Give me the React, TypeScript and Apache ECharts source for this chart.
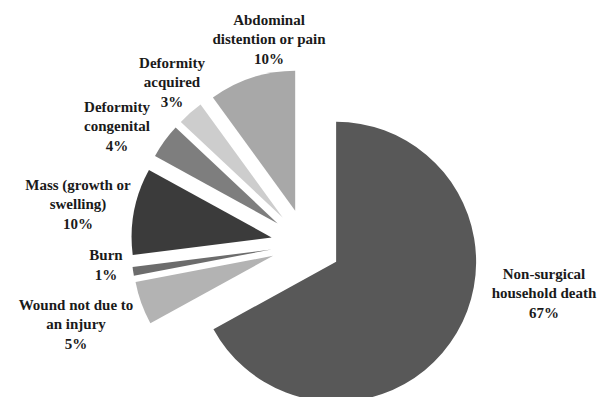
import React, { useEffect, useRef } from "react";
import * as echarts from "echarts";

const CATEGORIES = [
  "Non-surgical\nhousehold death",
  "Wound not due to\nan injury",
  "Burn",
  "Mass (growth or\nswelling)",
  "Deformity\ncongenital",
  "Deformity\nacquired",
  "Abdominal\ndistention or pain",
];
const VALUES = [67, 5, 1, 10, 4, 3, 10];
const COLORS = ["#585858", "#b3b3b3", "#6c6c6c", "#3b3b3b", "#7e7e7e", "#cdcdcd", "#a8a8a8"];
// label block centres (layout only)
const LABEL_CENTERS: [number, number][] = [
  [544, 293],
  [76, 324],
  [106, 265],
  [78, 204],
  [117, 126],
  [172, 82],
  [269, 39],
];

export default function App() {
  const ref = useRef<HTMLDivElement>(null);
  useEffect(() => {
    if (!ref.current) return;
    const chart = echarts.init(ref.current, undefined, { renderer: "svg" });
    chart.setOption({
      animation: false,
      backgroundColor: "#ffffff",
      graphic: CATEGORIES.map((name, i) => ({
        type: "text",
        x: LABEL_CENTERS[i][0],
        y: LABEL_CENTERS[i][1],
        silent: true,
        style: {
          text: `${name}\n${VALUES[i]}%`,
          fontFamily: "Liberation Serif",
          fontWeight: "bold",
          fontSize: 15,
          lineHeight: 19.5,
          fill: "#1a1a1a",
          align: "center",
          verticalAlign: "middle",
        },
      })),
      series: [
        {
          type: "pie",
          center: [306, 244],
          radius: [0, 140],
          startAngle: 90,
          clockwise: true,
          selectedMode: "multiple",
          selectedOffset: 35,
          emphasis: { disabled: true },
          data: CATEGORIES.map((name, i) => ({
            name,
            value: VALUES[i],
            selected: true,
            itemStyle: { color: COLORS[i] },
          })),
          label: { show: false },
          labelLine: { show: false },
        },
      ],
    });
    return () => chart.dispose();
  }, []);
  return (
    <div
      ref={ref}
      style={{ position: "absolute", left: 0, top: 0, width: 607, height: 397 }}
    />
  );
}
